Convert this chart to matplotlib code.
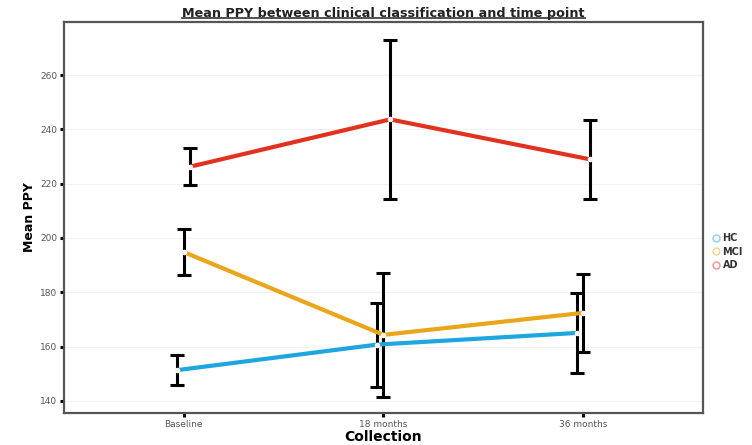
import numpy as np
import matplotlib.pyplot as plt
from matplotlib.lines import Line2D

# mean PPY per group at each collection point, with error half-widths
timepoints = ["Baseline", "18 months", "36 months"]
groups = ["HC", "MCI", "AD"]
hc_mean = [151.3, 160.7, 165.0]
hc_err = [5.5, 15.5, 14.6]
mci_mean = [194.8, 164.3, 172.4]
mci_err = [8.5, 22.8, 14.3]
ad_mean = [226.3, 243.7, 229.0]
ad_err = [6.9, 29.3, 14.5]

colors = {"HC": "#1ea6df", "MCI": "#eaa51a", "AD": "#e2321f"}
means = {"HC": hc_mean, "MCI": mci_mean, "AD": ad_mean}
errs = {"HC": hc_err, "MCI": mci_err, "AD": ad_err}
dodge = {"HC": -0.033, "MCI": 0.0, "AD": 0.033}

fig = plt.figure(figsize=(7.52, 4.45), dpi=100)
ax = fig.add_axes([0.0851, 0.0719, 0.8497, 0.8787])

x = np.arange(1, len(timepoints) + 1)
for g in groups:
    xs = x + dodge[g]
    ax.errorbar(xs, means[g], yerr=errs[g], fmt="none", ecolor="black",
                elinewidth=2.2, capsize=5, capthick=2.2, zorder=3)
    ax.plot(xs, means[g], color=colors[g], lw=3.0, zorder=4,
            solid_capstyle="butt")
    ax.plot(xs, means[g], "o", ms=4, mfc="#fff4f0", mec="none", zorder=5)

ax.set_xlim(0.4, 3.6)
ax.set_ylim(135.5, 279.6)
ax.set_xticks(x)
ax.set_xticklabels(timepoints)
ax.set_yticks(np.arange(140, 261, 20))

ax.tick_params(axis="both", length=3, width=2.2, color="black",
               labelsize=6.5, labelcolor="#555555", pad=2)
for s in ax.spines.values():
    s.set_color("#555555")
    s.set_linewidth(1.6)
ax.grid(axis="y", color="#f2f2f2", lw=0.8, zorder=0)
ax.set_axisbelow(True)

ax.set_xlabel("Collection", fontsize=10, fontweight="bold", labelpad=1)
ax.set_ylabel("Mean PPY", fontsize=9, fontweight="bold", labelpad=3)

title = fig.text(0.51, 0.962, "Mean PPY between clinical classification and time point",
                 ha="center", va="baseline", fontsize=9.2, fontweight="bold",
                 color="#222222")
# underline along the title baseline
fig.canvas.draw()
bb = title.get_window_extent().transformed(fig.transFigure.inverted())
fig.add_artist(Line2D([bb.x0, bb.x1], [0.960, 0.960],
                      transform=fig.transFigure, color="#333333", lw=1.2))

handles = [Line2D([], [], ls="none", marker="o", ms=5, mfc="white",
                  mec=colors[g], mew=1.0, alpha=0.5) for g in groups]
leg = fig.legend(handles, groups, loc="upper left",
                 bbox_to_anchor=(0.935, 0.495), frameon=False,
                 handlelength=0.8, handletextpad=0.3, labelspacing=0.35,
                 prop={"size": 7, "weight": "bold"})
for t in leg.get_texts():
    t.set_color("#333333")

fig.savefig("out.png", dpi=100)
